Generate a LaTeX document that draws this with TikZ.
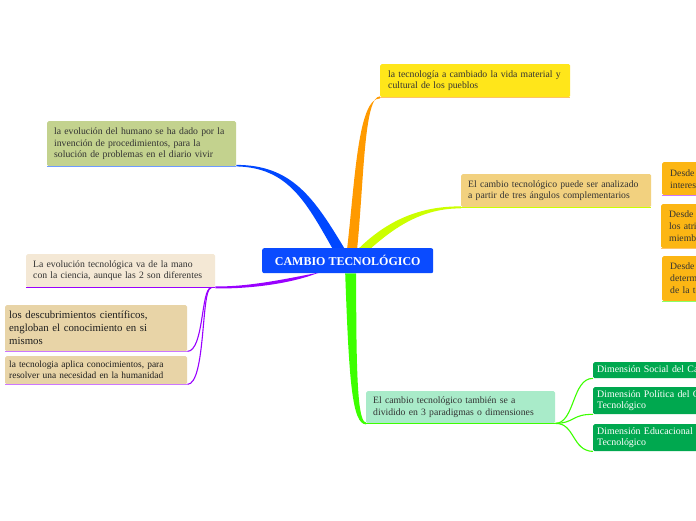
\documentclass[tikz,border=0pt]{standalone}
\usepackage{fontspec}
\setmainfont{Liberation Serif}
\usetikzlibrary{calc,backgrounds}
\definecolor{txt}{HTML}{333333}
\definecolor{txtdark}{HTML}{1E1E1E}
\definecolor{cblue}{HTML}{0A4BFF}
\definecolor{bluebr}{HTML}{0047FF}
\definecolor{blueul}{HTML}{6E9BFF}
\definecolor{gbox}{HTML}{C3D28E}
\definecolor{beige}{HTML}{F4E8D5}
\definecolor{tan}{HTML}{E8D4A7}
\definecolor{yel}{HTML}{FFE61A}
\definecolor{orng}{HTML}{FF9A00}
\definecolor{orngul}{HTML}{FFC266}
\definecolor{anbox}{HTML}{F2D17F}
\definecolor{lime}{HTML}{CCFF00}
\definecolor{rbox}{HTML}{FCB614}
\definecolor{mint}{HTML}{A9EBC9}
\definecolor{grn}{HTML}{3CFF00}
\definecolor{dgrn}{HTML}{00A84F}
\definecolor{purp}{HTML}{9900FF}
\definecolor{purpl}{HTML}{CC77FF}
\begin{document}
\begin{tikzpicture}[x=1pt,y=-1pt,
  bx/.style={rectangle,rounded corners=1.5pt,anchor=north west,inner xsep=7pt,inner ysep=1pt,align=left,font=\fontsize{9.7}{11.3}\selectfont,text=txt},
  ul/.style={line width=1.5pt},
  thinline/.style={line width=1.1pt}]
\clip (0,0) rectangle (696,520);

% boxes
\node[bx,fill=gbox,text width=175,minimum height=45] (g1) at (47,121)
  {\mbox{la evolución del humano se ha dado por la}\\\mbox{invención de procedimientos, para la}\\\mbox{solución de problemas en el diario vivir}};
\node[bx,fill=beige,text width=175,minimum height=33] (b1) at (26,254)
  {\mbox{La evolución tecnológica va de la mano}\\\mbox{con la ciencia, aunque las 2 son diferentes}};
\node[bx,fill=tan,inner xsep=4pt,text width=174,minimum height=46,font=\fontsize{10.8}{13}\selectfont,text=txtdark] (t1) at (5,305)
  {\mbox{los descubrimientos científicos,}\\\mbox{engloban el conocimiento en si}\\\mbox{mismos}};
\node[bx,fill=tan,inner xsep=4pt,text width=174,minimum height=28,font=\fontsize{9.4}{11}\selectfont,text=txtdark] (t2) at (5,356)
  {\mbox{la tecnologia aplica conocimientos, para}\\\mbox{resolver una necesidad en la humanidad}};
\node[bx,fill=yel,inner xsep=8pt,text width=174,minimum height=33] (y1) at (380,64)
  {\mbox{la tecnología a cambiado la vida material y}\\\mbox{cultural de los pueblos}};
\node[bx,fill=anbox,text width=176,minimum height=33] (a1) at (461,174)
  {\mbox{El cambio tecnológico puede ser analizado}\\\mbox{a partir de tres ángulos complementarios}};
\node[bx,fill=rbox,inner xsep=8pt,text width=150,minimum height=33,font=\fontsize{9.7}{12}\selectfont] (r1) at (662,162)
  {\mbox{Desde el punto de vista de los}\\\mbox{intereses sociales}};
\node[bx,fill=rbox,inner xsep=8pt,text width=150,minimum height=44,font=\fontsize{9.7}{12}\selectfont] (r2) at (661,204)
  {\mbox{Desde el punto de vista de}\\\mbox{los atributos de sus}\\\mbox{miembros}};
\node[bx,fill=rbox,inner xsep=8pt,text width=150,minimum height=45,font=\fontsize{9.7}{12}\selectfont] (r3) at (662,256)
  {\mbox{Desde el punto de vista del}\\\mbox{determinismo}\\\mbox{de la tecnología}};
\node[bx,fill=mint,text width=175,minimum height=32] (m1) at (366,391)
  {\mbox{El cambio tecnológico también se a}\\\mbox{dividido en 3 paradigmas o dimensiones}};
\node[bx,fill=dgrn,text=white,inner xsep=4pt,text width=200,minimum height=16,font=\fontsize{9.9}{11.3}\selectfont] (d1) at (593,362)
  {\mbox{Dimensión Social del Cambio Tecnológico}};
\node[bx,fill=dgrn,text=white,inner xsep=4pt,text width=200,minimum height=27,font=\fontsize{9.9}{11.3}\selectfont] (d2) at (593,387)
  {\mbox{Dimensión Política del Cambio}\\\mbox{Tecnológico}};
\node[bx,fill=dgrn,text=white,inner xsep=4pt,text width=200,minimum height=27,font=\fontsize{9.9}{11.3}\selectfont] (d3) at (593,424)
  {\mbox{Dimensión Educacional del Cambio}\\\mbox{Tecnológico}};
\node[rectangle,rounded corners=2pt,fill=cblue,text=white,font=\bfseries\fontsize{12}{14}\selectfont,minimum width=171,minimum height=25,anchor=north west,inner sep=0pt] (c) at (262,248) {CAMBIO TECNOLÓGICO};

\coordinate (pj) at (211,288);

% underlines
\draw[ul,blueul] (g1.south west) -- (g1.south east);
\draw[ul,purp] (b1.south west) -- (b1.south east);
\draw[ul,purpl] (t1.south west) -- (t1.south east);
\draw[ul,purpl] (t2.south west) -- (t2.south east);
\draw[ul,orngul] (y1.south west) -- (y1.south east);
\draw[ul,lime] (a1.south west) -- (a1.south east);
\draw[ul,purpl] (r1.south west) -- (r1.south east);
\draw[ul,orngul] (r2.south west) -- (r2.south east);
\draw[ul,grn!60] (r3.south west) -- (r3.south east);
\draw[ul,grn] (m1.south west) -- (m1.south east);

% thin connectors
\draw[thinline,purp] (pj) .. controls (201,288) and (204,351) .. (t1.south east);
\draw[thinline,purp] (pj) .. controls (201,288) and (206,384) .. (t2.south east);
\draw[thinline,grn] (m1.south east) .. controls (575,423) and (572,378) .. (d1.south west);
\draw[thinline,grn] (m1.south east) .. controls (575,423) and (572,414) .. (d2.south west);
\draw[thinline,grn] (m1.south east) .. controls (575,423) and (572,451) .. (d3.south west);

% tapered main branches
\begin{scope}[on background layer]
\fill[white] (0,0) rectangle (696,520);
\fill[bluebr] ($(c.north)+(-15.5,0)$) .. controls (306,202) and (288,167.5) .. (g1.south east)
  -- ($(g1.south east)+(0,-1.5)$) .. controls (292,165) and (314,198) .. ($(c.north)+(-3.5,0)$) -- cycle;
\fill[orng] ($(c.north)+(-0.5,0)$) .. controls (355,180) and (358,98) .. ($(y1.south west)+(0,1)$)
  -- ($(y1.south west)+(0,-1)$) .. controls (364,96) and (364,180) .. ($(c.north)+(9.5,0)$) -- cycle;
\fill[lime] ($(c.north)+(11.5,0)$) .. controls (386,222) and (418,206) .. ($(a1.south west)+(0,-1)$)
  -- ($(a1.south west)+(0,1)$) .. controls (422,208) and (394,228) .. ($(c.north)+(23.5,0)$) -- cycle;
\fill[grn] ($(c.south)+(-2.5,0)$) .. controls (349,380) and (352,424) .. ($(m1.south west)+(0,1)$)
  -- ($(m1.south west)+(0,-1)$) .. controls (358,422) and (356,380) .. ($(c.south)+(8.5,0)$) -- cycle;
\fill[purp] ($(c.south)+(-23,-2)$) .. controls (290,278) and (250,287) .. ($(b1.south east)+(0,-1)$)
  -- ($(b1.south east)+(0,1)$) .. controls (252,289) and (292,283) .. ($(c.south)+(-31,0)$) -- cycle;
\end{scope}
\end{tikzpicture}
\end{document}
